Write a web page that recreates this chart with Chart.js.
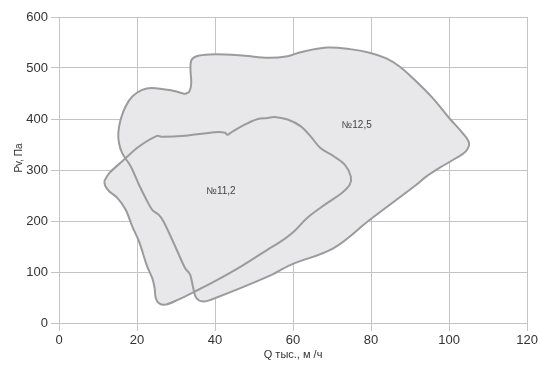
<!DOCTYPE html>
<html>
<head>
<meta charset="utf-8">
<script src="https://cdn.jsdelivr.net/npm/chart.js@4.4.0/dist/chart.umd.min.js"></script>
<style>
  html, body { margin: 0; padding: 0; background: #fff; }
  #wrap { width: 540px; height: 369px; }
</style>
</head>
<body>
<div id="wrap"><canvas id="fanChart"></canvas></div>
<script>
// Operating area of fan №12,5 (Q, thousand m3/h ; Pv, Pa), traced clockwise
const q125 = [32.3, 33.4, 33.9, 33.7, 34.0, 35.7, 40.0, 47.6, 53.5, 58.6, 61.9, 68.7, 74.6, 79.6, 83.9, 87.3, 90.7, 95.8, 100.0, 103.4, 105.1, 104.2, 101.7, 97.5, 94.1, 91.6, 79.6, 70.4, 59.4, 53.5, 39.1, 37.0, 35.2, 34.4, 33.6, 32.3, 29.8, 26.8, 25.6, 23.9, 22.2, 20.5, 18.4, 16.2, 15.4, 15.2, 15.8, 17.1, 18.8, 21.3, 23.8, 28.9, 32.3];
const p125 = [449, 454, 470, 497, 516, 524, 527, 524, 520, 523, 531, 540, 537, 530, 519, 503, 480, 441, 402, 373, 353, 336, 323, 304, 287, 271, 202, 147, 114, 91, 46, 42, 49, 69, 95, 108, 150, 199, 212, 222, 245, 271, 307, 333, 352, 372, 399, 425, 444, 457, 461, 456, 449];

// Operating area of fan №11,2
const q112 = [11.6, 12.9, 16.2, 20.5, 25.1, 26.4, 32.3, 40.0, 42.6, 43.1, 44.2, 47.6, 51.0, 53.5, 55.2, 58.6, 61.9, 64.5, 67.0, 70.4, 73.3, 74.8, 74.5, 72.5, 68.7, 63.6, 60.3, 56.9, 53.5, 46.7, 40.0, 34.9, 30.6, 27.3, 25.6, 24.8, 24.5, 23.9, 22.6, 20.5, 18.8, 17.1, 15.0, 12.9, 11.9, 11.6];
const p112 = [278, 294, 317, 346, 367, 365, 367, 374, 373, 369, 374, 389, 400, 402, 404, 399, 386, 366, 343, 327, 310, 287, 271, 255, 235, 206, 180, 160, 144, 111, 82, 62, 46, 36, 39, 49, 69, 88, 111, 160, 189, 222, 245, 258, 268, 278];

const fanNames = ["№12,5", "№11,2"];
const labelQ = [76.3, 41.5];
const labelP = [387, 259];

const xTicks = [0, 20, 40, 60, 80, 100, 120];
const yTicks = [0, 100, 200, 300, 400, 500, 600];

const toPoints = (qs, ps) => qs.map((q, i) => ({ x: q, y: ps[i] }));

const fillColor = "#e8e8eb";
const edgeColor = "#9b9b9b";
const gridColor = "#c4c4c4";
const textColor = "#333";

// fan names inside the areas and the vertical axis title
const annotations = {
  id: "annotations",
  afterDatasetsDraw(chart) {
    const { ctx, scales } = chart;
    ctx.save();
    ctx.fillStyle = "#444";
    ctx.font = "10px 'Liberation Sans', Arial, sans-serif";
    ctx.textAlign = "center";
    ctx.textBaseline = "middle";
    fanNames.forEach((name, i) => {
      ctx.fillText(name, scales.x.getPixelForValue(labelQ[i]), scales.y.getPixelForValue(labelP[i]));
    });
    ctx.translate(19, 158);
    ctx.rotate(-Math.PI / 2);
    ctx.fillStyle = textColor;
    ctx.fillText("Pv, Па", 0, 0);
    ctx.restore();
  }
};

new Chart(document.getElementById("fanChart"), {
  type: "scatter",
  data: {
    datasets: [
      {
        label: fanNames[0],
        data: toPoints(q125, p125),
        showLine: true,
        fill: "shape",
        backgroundColor: fillColor,
        borderColor: edgeColor,
        borderWidth: 2,
        tension: 0.35,
        pointRadius: 0
      },
      {
        label: fanNames[1],
        data: toPoints(q112, p112),
        showLine: true,
        fill: "shape",
        backgroundColor: fillColor,
        borderColor: edgeColor,
        borderWidth: 2,
        tension: 0.35,
        pointRadius: 0
      }
    ]
  },
  options: {
    responsive: true,
    maintainAspectRatio: false,
    animation: false,
    layout: { padding: { top: 17, right: 8, left: 0, bottom: 0 } },
    plugins: {
      legend: { display: false },
      tooltip: { enabled: false },
      filler: { drawTime: "beforeDatasetsDraw" }
    },
    scales: {
      x: {
        type: "linear",
        min: 0,
        max: 120,
        afterBuildTicks: (s) => { s.ticks = xTicks.map(v => ({ value: v })); },
        afterFit: (s) => { s.height = 46; },
        grid: { color: gridColor, tickLength: 8, lineWidth: 1 },
        border: { color: gridColor },
        ticks: { color: textColor, padding: 2, font: { size: 13, family: "'Liberation Sans', Arial, sans-serif" } },
        title: {
          display: true,
          text: "Q тыс., м /ч",
          color: textColor,
          padding: { top: 0, bottom: 7 },
          font: { size: 11, family: "'Liberation Sans', Arial, sans-serif" }
        }
      },
      y: {
        type: "linear",
        min: 0,
        max: 600,
        afterBuildTicks: (s) => { s.ticks = yTicks.map(v => ({ value: v })); },
        afterFit: (s) => { s.width = 59; },
        grid: { color: gridColor, tickLength: 8, lineWidth: 1 },
        border: { color: gridColor },
        ticks: { color: textColor, padding: 3, font: { size: 13, family: "'Liberation Sans', Arial, sans-serif" } }
      }
    }
  },
  plugins: [annotations]
});
</script>
</body>
</html>
